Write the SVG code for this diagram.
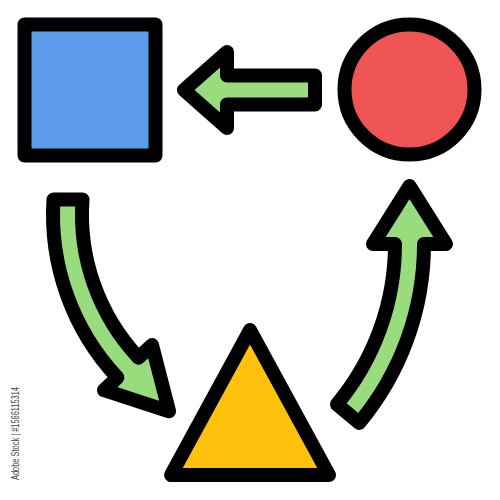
<svg xmlns="http://www.w3.org/2000/svg" width="500" height="500" viewBox="0 0 500 500">
  <style>
    .ol { stroke: #000; stroke-width: 14; stroke-linejoin: round; }
    .arrow { fill: #98dc7e; }
    .wm { font-family: "Liberation Sans", Arial, sans-serif; font-size: 11px; fill: #444; }
  </style>
  <rect width="500" height="500" fill="#fff"/>
  <g id="square">
    <rect class="ol" x="24.5" y="24.5" width="131" height="131" fill="#5b9bea"/>
  </g>
  <g id="circle">
    <circle class="ol" cx="409.5" cy="89.5" r="65" fill="#f05555"/>
  </g>
  <g id="triangle">
    <polygon class="ol" points="250,330 171,475 329,475" fill="#fec20c"/>
  </g>
  <g id="connectors">
    <path class="ol arrow" d="M184,90 L227,52 L227,75.5 L315,75.5 L315,104.5 L227,104.5 L227,128 Z"/>
    <path class="ol arrow" d="M53.5,199.5 L82.5,199.5 A209.5,209.5 0 0 0 138.5,357.7 L152,345 L169.1,411.3 L104,390.2 L117.4,377.6 A238.5,238.5 0 0 1 53.5,199.5 Z"/>
    <path class="ol arrow" d="M337,404.3 A250.5,250.5 0 0 0 395,244 L373,244 L409.5,186 L446,244 L424,244 A279.5,279.5 0 0 1 359.2,422.9 Z"/>
  </g>
  <text class="wm" transform="translate(19,480) rotate(-90)" textLength="93" lengthAdjust="spacingAndGlyphs">Adobe Stock | #1566115314</text>
</svg>
